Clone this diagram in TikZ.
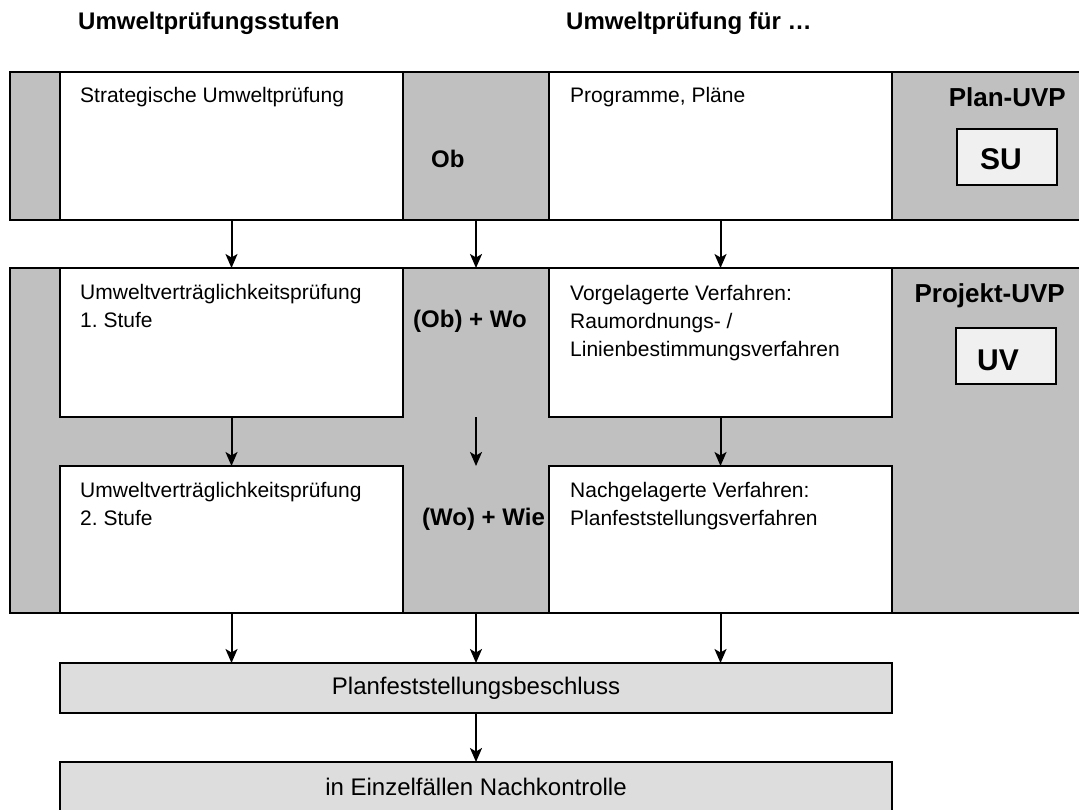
\documentclass[tikz,border=0pt]{standalone}
\usepackage{fontspec}
\setmainfont{Liberation Sans}
\usetikzlibrary{arrows.meta}
\definecolor{bandgrey}{HTML}{C0C0C0}
\definecolor{lgrey}{HTML}{DDDDDD}
\definecolor{vlgrey}{HTML}{F0F0F0}
\frenchspacing
\begin{document}
\begin{tikzpicture}[x=1pt,y=-1pt,
  frame/.style={draw=black, line width=1.6pt, inner sep=0pt, outer sep=0pt, anchor=north west},
  bandbox/.style={frame, fill=bandgrey},
  whitebox/.style={frame, fill=white, minimum width=343pt},
  resultbox/.style={frame, fill=lgrey, minimum width=832pt, minimum height=50pt, font=\fontsize{24}{28}\selectfont},
  tagbox/.style={frame, fill=vlgrey, minimum width=100pt, minimum height=56pt},
  tagtext/.style={anchor=base west, inner sep=0pt, font=\bfseries\fontsize{30}{34}\selectfont},
  boxtext/.style={anchor=base west, align=left, inner sep=0pt, font=\fontsize{21}{28}\selectfont},
  head/.style={anchor=base west, inner sep=0pt, font=\bfseries\fontsize{24}{28}\selectfont},
  midlabel/.style={anchor=base west, inner sep=0pt, font=\bfseries\fontsize{24}{28}\selectfont},
  typelabel/.style={anchor=base east, inner sep=0pt, font=\bfseries\fontsize{26}{30}\selectfont},
  arr/.style={-{Stealth[length=14pt,width=12pt,inset=3.5pt]}, line width=2pt}
]
\clip (0,0) rectangle (1079,809);
\fill[white] (0,0) rectangle (1079,809);

% headers
\node[head] (h1) at (78,29) {Umweltprüfungsstufen};
\node[head] (h2) at (566,29) {Umweltprüfung für …};

% band 1
\node[bandbox, minimum width=1090pt, minimum height=148pt] (band1) at (10,72) {};
\node[whitebox, minimum height=148pt] (sup) at (60,72) {};
\node[whitebox, minimum height=148pt] (prog) at (549,72) {};

% band 2
\node[bandbox, minimum width=1090pt, minimum height=345pt] (band2) at (10,268) {};
\node[whitebox, minimum height=149pt] (uvp1) at (60,268) {};
\node[whitebox, minimum height=149pt] (vorg) at (549,268) {};
\node[whitebox, minimum height=147pt] (uvp2) at (60,466) {};
\node[whitebox, minimum height=147pt] (nach) at (549,466) {};

% results
\node[resultbox] (pfb) at (60,663) {Planfeststellungsbeschluss};
\node[resultbox] (nk) at (60,762) {in Einzelfällen Nachkontrolle};

% box texts (base anchor = baseline of last line)
\node[boxtext] (tsup) at (80,102) {Strategische Umweltprüfung};
\node[boxtext] (tprog) at (570,102) {Programme, Pläne};
\node[boxtext] (tuvp1) at (80,327) {Umweltverträglichkeitsprüfung\\1. Stufe};
\node[boxtext] (tvorg) at (570,356) {Vorgelagerte Verfahren:\\Raumordnungs- /\\Linienbestimmungsverfahren};
\node[boxtext] (tuvp2) at (80,525) {Umweltverträglichkeitsprüfung\\2. Stufe};
\node[boxtext] (tnach) at (570,525) {Nachgelagerte Verfahren:\\Planfeststellungsverfahren};

% middle labels
\node[midlabel] (ob) at (431,167) {Ob};
\node[midlabel] (obwo) at (413,327) {(Ob) + Wo};
\node[midlabel] (wowie) at (422,525) {(Wo) + Wie};

% type labels and tags
\node[typelabel] (planuvp) at (1066,106) {Plan-UVP};
\node[tagbox] (su) at (957,129) {};
\node[tagtext] (sut) at (980,169) {SU};
\node[typelabel] (projuvp) at (1065,302) {Projekt-UVP};
\node[tagbox] (uv) at (956,328) {};
\node[tagtext] (uvt) at (977,370) {UV};

% arrows
\coordinate (m) at (476,0);
\draw[arr] (sup.south) -- (uvp1.north);
\draw[arr] (band1.south -| m) -- (band2.north -| m);
\draw[arr] (prog.south) -- (vorg.north);
\draw[arr] (uvp1.south) -- (uvp2.north);
\draw[arr] (uvp1.south -| m) -- (uvp2.north -| m);
\draw[arr] (vorg.south) -- (nach.north);
\draw[arr] (uvp2.south) -- (pfb.north -| uvp2.south);
\draw[arr] (band2.south -| m) -- (pfb.north -| m);
\draw[arr] (nach.south) -- (pfb.north -| nach.south);
\draw[arr] (pfb.south -| m) -- (nk.north -| m);
\end{tikzpicture}
\end{document}
